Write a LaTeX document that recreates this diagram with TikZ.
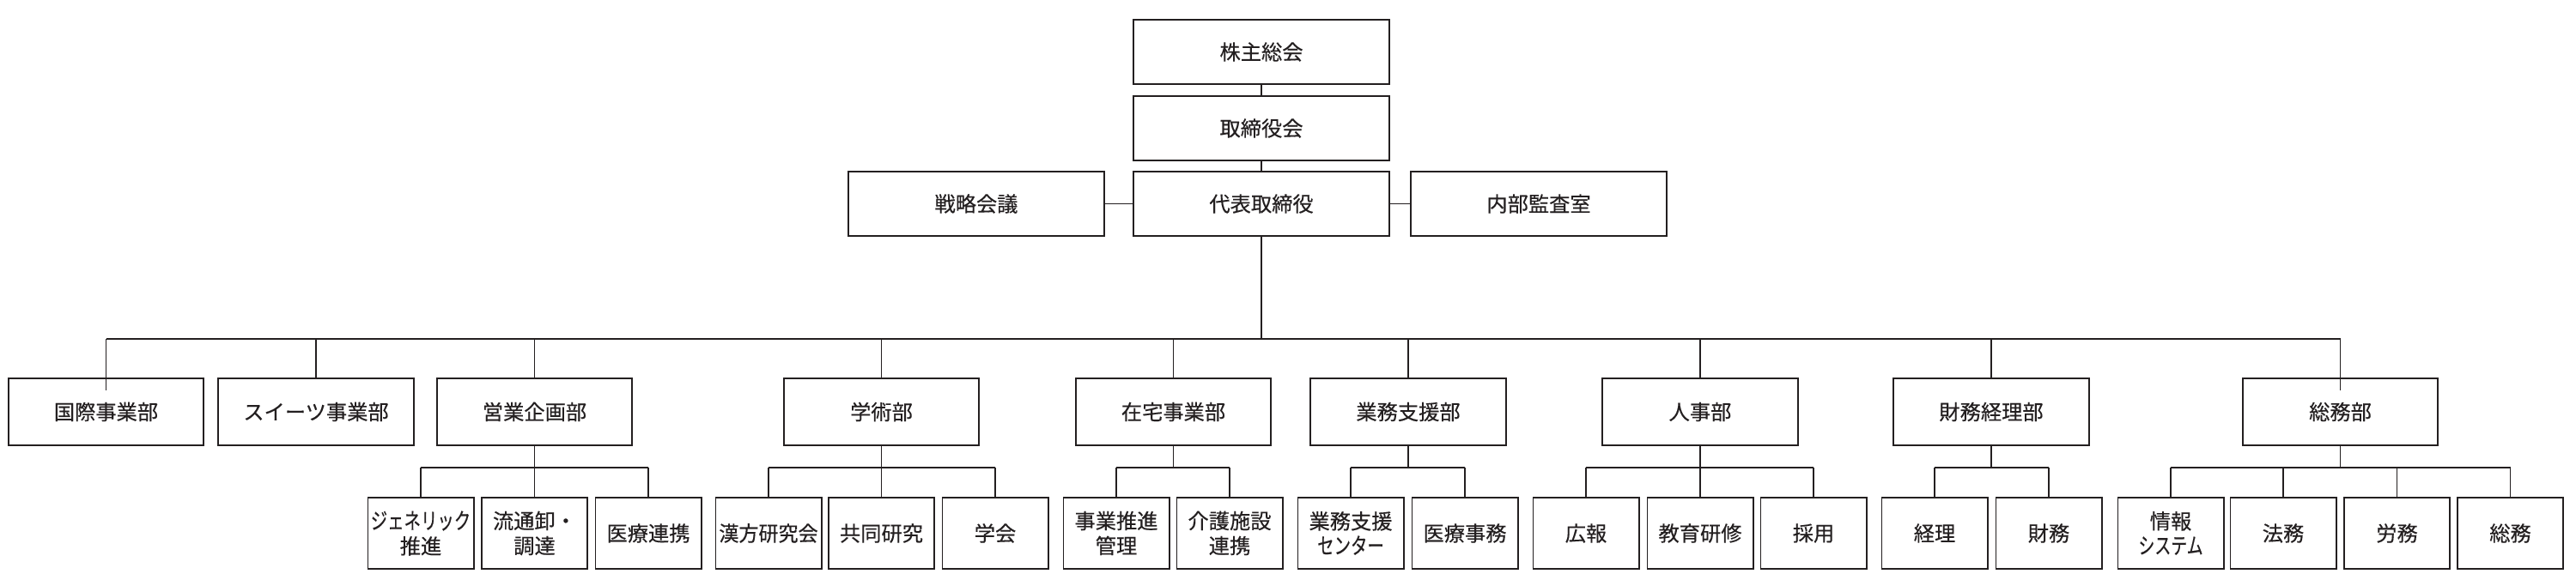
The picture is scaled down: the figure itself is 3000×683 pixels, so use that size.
\documentclass[tikz,border=0pt]{standalone}
\usepackage{fontspec}
\setmainfont{Noto Sans CJK JP}[UprightFeatures={FakeBold=0.3}]
\usepackage{graphicx}
\usetikzlibrary{calc}
\definecolor{ink}{HTML}{231F20}
\tikzset{
  base/.style={draw=ink, line width=0.55pt, text=ink, inner sep=0pt, outer sep=0pt, align=center, font=\fontsize{6.9pt}{8.25pt}\selectfont},
  topbox/.style={base, minimum width=2.98cm, minimum height=0.75cm},
  deptbox/.style={base, minimum width=2.27cm, minimum height=0.78cm},
  subbox/.style={base, minimum width=1.23cm, minimum height=0.83cm},
  conn/.style={draw=ink, line width=0.45pt},
}
\begin{document}
\begin{tikzpicture}[x=0.01cm,y=-0.01cm]
\useasboundingbox (0,0) rectangle (3000,683);
\fill[white] (0,0) rectangle (3000,683);
% top
\node[topbox] (kabu) at (1469,60.5) {株主総会};
\node[topbox] (tori) at (1469,149.5) {取締役会};
\node[topbox] (daihyo) at (1469,237.5) {代表取締役};
\node[topbox] (senryaku) at (1137,237.5) {戦略会議};
\node[topbox] (naibu) at (1792,237.5) {内部監査室};
% departments
\node[deptbox] (kokusai) at (123.5,480) {国際事業部};
\node[deptbox] (sweets) at (368,480) {スイーツ事業部};
\node[deptbox] (eigyo) at (622.5,480) {営業企画部};
\node[deptbox] (gakujutsu) at (1026.5,480) {学術部};
\node[deptbox] (zaitaku) at (1366.5,480) {在宅事業部};
\node[deptbox] (gyomu) at (1640,480) {業務支援部};
\node[deptbox] (jinji) at (1980,480) {人事部};
\node[deptbox] (zaimu) at (2319,480) {財務経理部};
\node[deptbox] (somu) at (2725.5,480) {総務部};
% sections
\node[subbox] (generic) at (490,621.5) {\scalebox{0.8}[1.08]{ジェネリック}\\推進};
\node[subbox] (ryutsu) at (622.5,621.5) {流通卸・\\調達};
\node[subbox] (iryo) at (755,621.5) {医療連携};
\node[subbox] (kanpo) at (895,621.5) {\scalebox{0.95}[1]{漢方研究会}};
\node[subbox] (kyodo) at (1026.5,621.5) {共同研究};
\node[subbox] (gakkai) at (1159,621.5) {学会};
\node[subbox] (jigyo) at (1300,621.5) {事業推進\\管理};
\node[subbox] (kaigo) at (1432,621.5) {介護施設\\連携};
\node[subbox] (center) at (1573,621.5) {業務支援\\\scalebox{0.8}[1.08]{センター}};
\node[subbox] (iryojimu) at (1706,621.5) {医療事務};
\node[subbox] (koho) at (1847,621.5) {広報};
\node[subbox] (kyoiku) at (1980,621.5) {教育研修};
\node[subbox] (saiyo) at (2112,621.5) {採用};
\node[subbox] (keiri) at (2253,621.5) {経理};
\node[subbox] (zaimu2) at (2386,621.5) {財務};
\node[subbox] (joho) at (2528,621.5) {情報\\\scalebox{0.78}[1.08]{システム}};
\node[subbox] (homu) at (2659,621.5) {法務};
\node[subbox] (romu) at (2791.5,621.5) {労務};
\node[subbox] (somu2) at (2923.5,621.5) {総務};
% top connectors
\draw[conn] (kabu) -- (tori);
\draw[conn] (tori) -- (daihyo);
\draw[conn] (senryaku) -- (daihyo);
\draw[conn] (daihyo) -- (naibu);
% main bus
\coordinate (bus) at (1469,395);
\draw[conn] (daihyo.south) -- (bus);
\draw[conn] (kokusai.north |- bus) -- (somu.north |- bus);
\foreach \d in {sweets,eigyo,gakujutsu,zaitaku,gyomu,jinji,zaimu}
  \draw[conn] (\d.north |- bus) -- (\d.north);
\draw[conn] (kokusai.north |- bus) -- ($(kokusai.north)+(0,14)$);
\draw[conn] (somu.north |- bus) -- ($(somu.north)+(0,14)$);
% sub buses
\coordinate (sb) at (0,545);
\foreach \d/\f/\l in {eigyo/generic/iryo, gakujutsu/kanpo/gakkai, zaitaku/jigyo/kaigo, gyomu/center/iryojimu, jinji/koho/saiyo, zaimu/keiri/zaimu2, somu/joho/somu2}{
  \draw[conn] (\d.south) -- (\d.south |- sb);
  \draw[conn] (\f.north |- sb) -- (\l.north |- sb);
}
\foreach \s in {generic,ryutsu,iryo,kanpo,kyodo,gakkai,jigyo,kaigo,center,iryojimu,koho,kyoiku,saiyo,keiri,zaimu2,joho,homu,romu,somu2}
  \draw[conn] (\s.north |- sb) -- (\s.north);
\end{tikzpicture}
\end{document}
